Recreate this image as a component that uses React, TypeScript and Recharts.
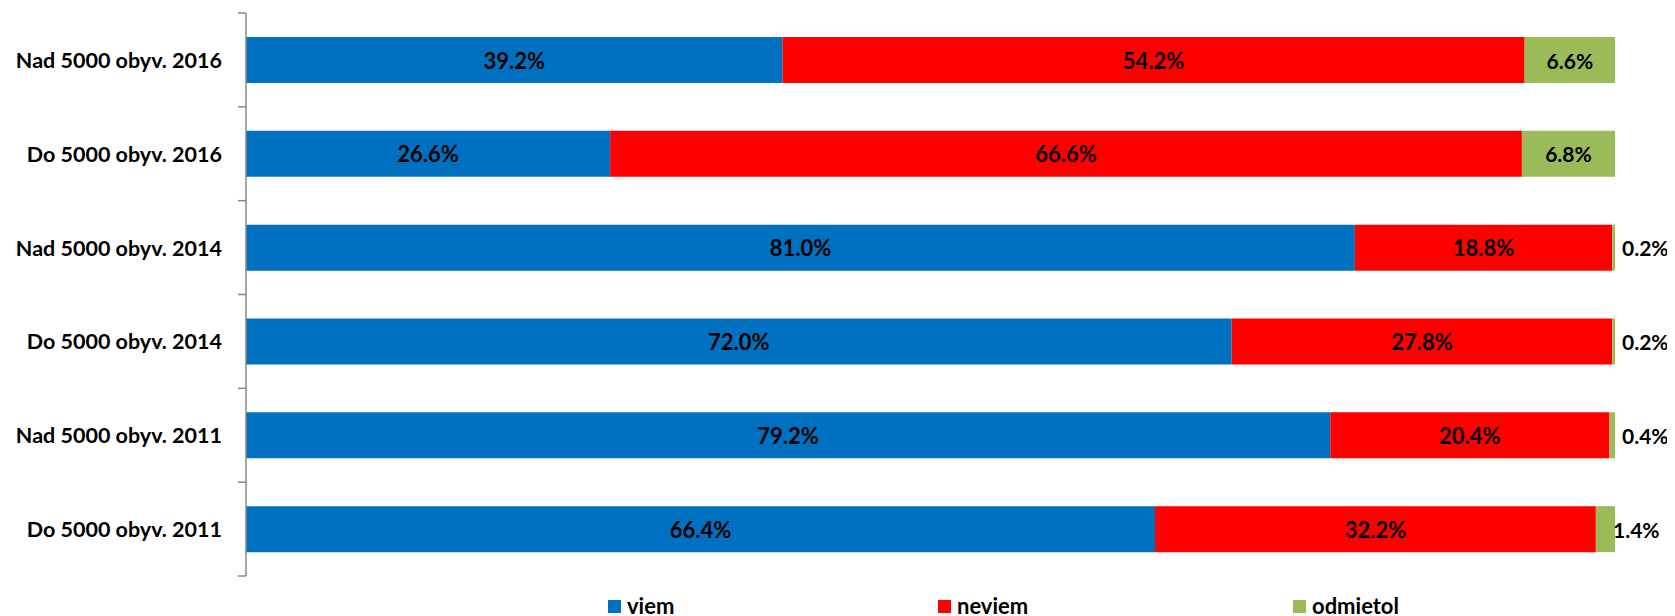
import React from 'react';
import { BarChart, Bar, XAxis, YAxis, LabelList, Legend } from 'recharts';

const categories = [
  'Nad 5000 obyv. 2016',
  'Do 5000 obyv. 2016',
  'Nad 5000 obyv. 2014',
  'Do 5000 obyv. 2014',
  'Nad 5000 obyv. 2011',
  'Do 5000 obyv. 2011',
];
const viem = [39.2, 26.6, 81.0, 72.0, 79.2, 66.4];
const neviem = [54.2, 66.6, 18.8, 27.8, 20.4, 32.2];
const odmietol = [6.6, 6.8, 0.2, 0.2, 0.4, 1.4];
const seriesNames = ['viem', 'neviem', 'odmietol'];
const seriesColors = ['#0070C0', '#FF0000', '#9BBB59'];

const data = categories.map((name, i) => ({
  name,
  viem: viem[i],
  neviem: neviem[i],
  odmietol: odmietol[i],
}));

const FONT = 'Lato, "Open Sans", sans-serif';
const AXIS_COLOR = '#888888';
const fmt = (v: number) => `${Number(v).toFixed(1)}%`;

const centerLabel = (props: any) => {
  const { x, y, width, height, value } = props;
  return (
    <text
      x={x + width / 2}
      y={y + height / 2}
      textAnchor="middle"
      dominantBaseline="central"
      fontFamily={FONT}
      fontWeight="bold"
      fontSize={22}
      fill="#000"
    >
      {fmt(value)}
    </text>
  );
};

const odmLabel = (props: any) => {
  const { x, y, width, height, value } = props;
  let tx = x + width / 2;
  let anchor: 'middle' | 'start' = 'middle';
  if (value < 1) {
    tx = x + width + 7;
    anchor = 'start';
  } else if (value < 3) {
    tx = x + width - 2;
    anchor = 'start';
  }
  return (
    <text
      x={tx}
      y={y + height / 2}
      textAnchor={anchor}
      dominantBaseline="central"
      fontFamily={FONT}
      fontWeight="bold"
      fontSize={21}
      fill="#000"
    >
      {fmt(value)}
    </text>
  );
};

const TICK_MARGIN = 24;
const TICK_LEN = 8;

const CatTick = (props: any) => {
  const { x, y, payload, index, visibleTicksCount } = props;
  const axisX = x + TICK_MARGIN;
  const half = payload && payload.offset ? payload.offset : 563 / 12;
  const isLast = index === (visibleTicksCount ?? categories.length) - 1;
  return (
    <g>
      <line
        x1={axisX - TICK_LEN}
        x2={axisX}
        y1={y - half}
        y2={y - half}
        stroke={AXIS_COLOR}
        strokeWidth={1.5}
      />
      {isLast && (
        <line
          x1={axisX - TICK_LEN}
          x2={axisX}
          y1={y + half}
          y2={y + half}
          stroke={AXIS_COLOR}
          strokeWidth={1.5}
        />
      )}
      <text
        x={x}
        y={y}
        textAnchor="end"
        dominantBaseline="central"
        fontFamily={FONT}
        fontWeight="bold"
        fontSize={21.5}
        fill="#000"
      >
        {payload.value}
      </text>
    </g>
  );
};

const legendX = [600, 930, 1285];

const renderLegend = () => (
  <div style={{ position: 'relative', height: 0 }}>
    {seriesNames.map((n, i) => (
      <div
        key={n}
        style={{
          position: 'absolute',
          left: legendX[i],
          top: 0,
          height: 22,
          display: 'flex',
          alignItems: 'center',
          whiteSpace: 'nowrap',
        }}
      >
        <span
          style={{
            display: 'inline-block',
            width: 13,
            height: 13,
            background: seriesColors[i],
            marginRight: 6,
          }}
        />
        <span
          style={{
            fontFamily: FONT,
            fontWeight: 'bold',
            fontSize: 22,
            color: '#000',
            lineHeight: '22px',
          }}
        >
          {n}
        </span>
      </div>
    ))}
  </div>
);

export default function App() {
  return (
    <BarChart
      width={1667}
      height={608}
      data={data}
      layout="vertical"
      margin={{ top: 5, right: 60, bottom: 40, left: 0 }}
      barSize={46}
    >
      <XAxis type="number" domain={[0, 100]} hide />
      <YAxis
        type="category"
        dataKey="name"
        width={238}
        axisLine={{ stroke: AXIS_COLOR, strokeWidth: 1.5 }}
        tickLine={false}
        tickSize={0}
        tickMargin={TICK_MARGIN}
        tick={<CatTick />}
      />
      <Legend
        content={renderLegend}
        wrapperStyle={{ top: 587, bottom: 'auto', left: 0, width: 1667, height: 0 }}
      />
      {seriesNames.map((s, i) => (
        <Bar
          key={s}
          dataKey={s}
          name={s}
          stackId="a"
          fill={seriesColors[i]}
          isAnimationActive={false}
        >
          <LabelList dataKey={s} content={i === 2 ? odmLabel : centerLabel} />
        </Bar>
      ))}
    </BarChart>
  );
}
